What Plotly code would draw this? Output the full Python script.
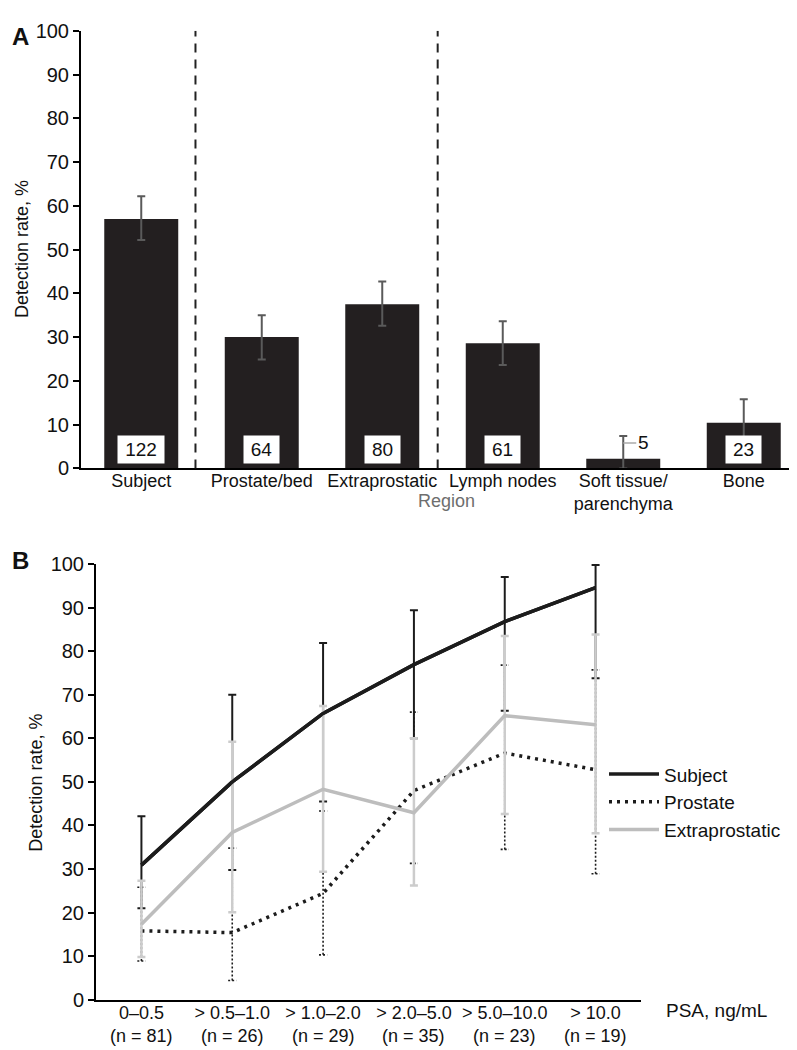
import plotly.graph_objects as go

# ---- Panel A data: detection rate by region ----
regions = ["Subject", "Prostate/bed", "Extraprostatic", "Lymph nodes",
           "Soft tissue/<br>parenchyma", "Bone"]
region_rate = [57.0, 30.0, 37.5, 28.6, 2.2, 10.4]
region_hi = [62.2, 35.0, 42.7, 33.6, 7.4, 15.8]
region_lo = [52.2, 24.9, 32.6, 23.6, 0.0, 5.2]
region_n = [122, 64, 80, 61, 5, 23]

# ---- Panel B data: detection rate by PSA level ----
psa_bins = ["0–0.5", "> 0.5–1.0", "> 1.0–2.0", "> 2.0–5.0", "> 5.0–10.0", "> 10.0"]
psa_n = [81, 26, 29, 35, 23, 19]
subject_rate = [30.9, 50.0, 65.7, 76.9, 86.8, 94.6]
subject_hi = [42.1, 70.0, 81.9, 89.4, 97.0, 99.8]
subject_lo = [21.0, 29.8, 45.5, 60.0, 66.3, 73.8]
prostate_rate = [15.8, 15.4, 24.4, 48.0, 56.6, 52.8]
prostate_hi = [25.8, 34.8, 43.3, 66.0, 76.8, 75.7]
prostate_lo = [8.9, 4.4, 10.3, 31.3, 34.5, 28.9]
extra_rate = [17.3, 38.4, 48.3, 42.9, 65.2, 63.1]
extra_hi = [27.3, 59.2, 67.4, 60.0, 83.5, 83.8]
extra_lo = [9.8, 20.1, 29.4, 26.2, 42.6, 38.2]

FONT = "Liberation Sans, Arial, sans-serif"
BLACK = "#1c1c1c"
GREY = "#bdbdbd"
W, H = 797, 1050

xa = list(range(len(regions)))
xb = list(range(len(psa_bins)))

fig = go.Figure()

# panel A bars
fig.add_trace(go.Bar(
    x=xa, y=region_rate, width=0.614, marker=dict(color="#231f20", line_width=0),
    error_y=dict(type="data", symmetric=False,
                 array=[h - v for h, v in zip(region_hi, region_rate)],
                 arrayminus=[v - l for v, l in zip(region_rate, region_lo)],
                 color="#5a5a5a", thickness=2, width=4),
    showlegend=False, xaxis="x", yaxis="y"))

# panel B: subject
fig.add_trace(go.Scatter(
    x=xb, y=subject_rate, mode="lines", name="Subject",
    line=dict(color=BLACK, width=3.5), cliponaxis=False,
    error_y=dict(type="data", symmetric=False,
                 array=[h - v for h, v in zip(subject_hi, subject_rate)],
                 arrayminus=[v - l for v, l in zip(subject_rate, subject_lo)],
                 color=BLACK, thickness=2, width=4),
    xaxis="x2", yaxis="y2"))

# prostate error bars (dotted, drawn by hand)
ex, ey = [], []
for i, (lo, hi) in enumerate(zip(prostate_lo, prostate_hi)):
    ex += [i, i, None, i - 0.045, i + 0.045, None, i - 0.045, i + 0.045, None]
    ey += [lo, hi, None, lo, lo, None, hi, hi, None]
fig.add_trace(go.Scatter(
    x=ex, y=ey, mode="lines", line=dict(color=BLACK, width=1.6, dash="2px,2px"),
    showlegend=False, hoverinfo="skip", xaxis="x2", yaxis="y2"))

fig.add_trace(go.Scatter(
    x=xb, y=prostate_rate, mode="lines", name="Prostate",
    line=dict(color=BLACK, width=3.5, dash="3px,5px"),
    xaxis="x2", yaxis="y2"))

fig.add_trace(go.Scatter(
    x=xb, y=extra_rate, mode="lines", name="Extraprostatic",
    line=dict(color=GREY, width=3.5),
    error_y=dict(type="data", symmetric=False,
                 array=[h - v for h, v in zip(extra_hi, extra_rate)],
                 arrayminus=[v - l for v, l in zip(extra_rate, extra_lo)],
                 color="#cccccc", thickness=2.5, width=4),
    xaxis="x2", yaxis="y2"))

# subject line again so it sits above the grey whiskers
fig.add_trace(go.Scatter(
    x=xb, y=subject_rate, mode="lines", line=dict(color=BLACK, width=3.5),
    showlegend=False, hoverinfo="skip", xaxis="x2", yaxis="y2"))

annotations = []
# n boxes inside bars
for i, n in enumerate(region_n):
    if n == 5:
        annotations.append(dict(x=i, y=5.8, xref="x", yref="y", text=str(n),
                                showarrow=True, arrowhead=0, arrowwidth=1.5,
                                arrowcolor="#aaaaaa", ax=20, ay=0,
                                font=dict(size=19, color="#111")))
    else:
        annotations.append(dict(x=i, y=4.3, xref="x", yref="y", text=str(n),
                                showarrow=False, bgcolor="white", borderpad=3,
                                width=11 * len(str(n)) + 7, height=21,
                                font=dict(size=19, color="#111")))

# second line of the PSA tick labels
for i, n in enumerate(psa_n):
    annotations.append(dict(x=i, y=1 - 1039 / H, xref="x2", yref="paper",
                            text=f"(n = {n})", showarrow=False,
                            xanchor="center", yanchor="middle",
                            font=dict(size=18, color="#111")))

annotations += [
    dict(x=438 / W, y=1 - 492 / H, xref="paper", yref="paper", text="Region",
         xanchor="center", yanchor="middle",
         showarrow=False, font=dict(size=18, color="#6e6e6e")),
    dict(x=14 / W, y=1 - 235 / H, xref="paper", yref="paper", text="Detection rate, %",
         textangle=-90, xanchor="center", yanchor="middle", showarrow=False,
         font=dict(size=18, color="#111")),
    dict(x=28 / W, y=1 - 780 / H, xref="paper", yref="paper", text="Detection rate, %",
         textangle=-90, xanchor="center", yanchor="middle", showarrow=False,
         font=dict(size=18, color="#111")),
    dict(x=656 / W, y=1 - 1013 / H, xref="paper", yref="paper", text="PSA, ng/mL",
         xanchor="left", yanchor="middle", showarrow=False,
         font=dict(size=19, color="#111")),
    dict(x=2 / W, y=1 - 2 / H, xref="paper", yref="paper", text="<b>A</b>",
         xanchor="left", yanchor="top", showarrow=False, font=dict(size=24, color="#111")),
    dict(x=2 / W, y=1 - 537 / H, xref="paper", yref="paper", text="<b>B</b>",
         xanchor="left", yanchor="top", showarrow=False, font=dict(size=24, color="#111")),
]

shapes = [
    dict(type="line", xref="x", yref="y", x0=xv, x1=xv, y0=0, y1=100,
         line=dict(color="#222", width=2, dash="9px,7px"))
    for xv in (0.45, 2.46)
]

axis_common = dict(showline=True, linecolor="black", linewidth=2, showgrid=False,
                   zeroline=False)
ytick_font = dict(size=20, color="#111")

fig.update_layout(
    width=W, height=H, margin=dict(l=0, r=0, t=0, b=0),
    plot_bgcolor="white", paper_bgcolor="white",
    font=dict(family=FONT, color="#111"),
    xaxis=dict(domain=[73 / W, 796 / W], range=[-0.5, 5.5], tickvals=xa,
               ticktext=regions, ticks="", anchor="y", ticklabelstandoff=-5,
               tickfont=dict(size=18, color="#111"), **axis_common),
    yaxis=dict(domain=[591 / H, 1038 / H], range=[0, 100], dtick=10, ticks="outside",
               ticklen=6, tickwidth=2, tickcolor="black", anchor="x",
               tickfont=ytick_font, **axis_common),
    xaxis2=dict(domain=[88 / W, 633 / W], range=[-0.5, 5.5], tickvals=xb,
                ticktext=psa_bins, ticks="", anchor="y2", ticklabelstandoff=-4,
                tickfont=dict(size=18, color="#111"), **axis_common),
    yaxis2=dict(domain=[48.3 / H, 493.3 / H], range=[0, 100], dtick=10, ticks="outside",
                ticklen=6, tickwidth=2, tickcolor="black", anchor="x2",
                tickfont=ytick_font, **axis_common),
    legend=dict(x=596 / W, y=1 - 752 / H, xanchor="left", yanchor="top",
                font=dict(size=19, color="#111"), itemwidth=50,
                bgcolor="rgba(0,0,0,0)"),
    annotations=annotations, shapes=shapes,
)

fig.write_html("out.html")
